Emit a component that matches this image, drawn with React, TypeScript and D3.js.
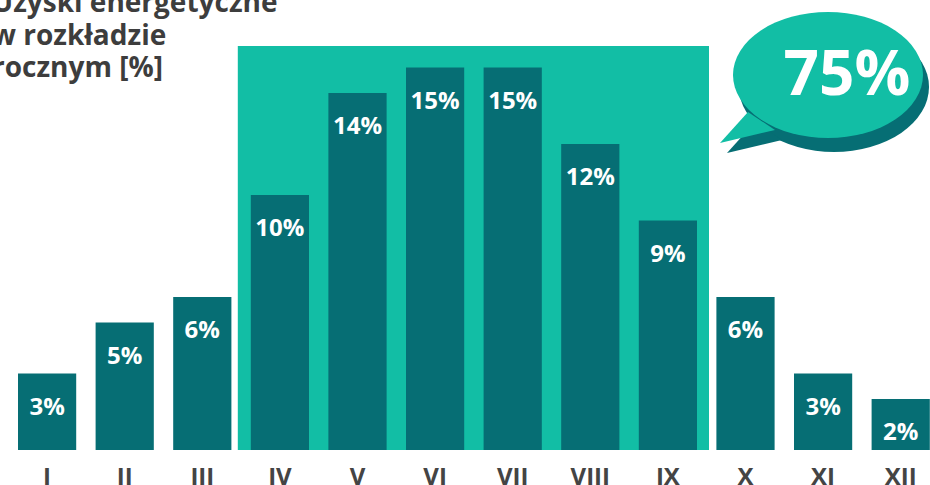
import React from "react";
import * as d3 from "d3";

const months = ["I", "II", "III", "IV", "V", "VI", "VII", "VIII", "IX", "X", "XI", "XII"];
const shares = [3, 5, 6, 10, 14, 15, 15, 12, 9, 6, 3, 2];
const highlightMonths = ["IV", "V", "VI", "VII", "VIII", "IX"];
const highlightTotal = "75%";
const titleLines = ["Uzyski energetyczne", "w rozkładzie", "rocznym [%]"];

const W = 930;
const H = 485;
const DARK = "#066e74";
const TEAL = "#12bea5";
const FONT = "'Open Sans', 'Noto Sans', sans-serif";

export default function App() {
  const x = d3.scaleBand<string>().domain(months).range([8.3, 939.5]).paddingInner(0.25).paddingOuter(0.125);
  const y = d3.scaleLinear().domain([0, 15]).range([450, 67.5]);
  const bw = x.bandwidth();

  const hx0 = (x(highlightMonths[0]) as number) - 13;
  const hx1 = (x(highlightMonths[highlightMonths.length - 1]) as number) + bw + 12;

  const cx = 828, cy = 75, rx = 95, ry = 63;
  const bubblePath = (dx: number, dy: number) => {
    const p = d3.path();
    p.moveTo(748 + dx, 112 + dy);
    p.lineTo(720 + dx, 143 + dy);
    p.lineTo(775 + dx, 130 + dy);
    p.closePath();
    return p.toString();
  };

  return (
    <svg width={W} height={H} style={{ position: "absolute", left: 0, top: 0 }} fontFamily={FONT}>
      <rect x={0} y={0} width={W} height={H} fill="#fff" />
      <rect x={hx0} y={46} width={hx1 - hx0} height={450 - 46} fill={TEAL} />
      {months.map((m, i) => (
        <g key={m}>
          <rect x={x(m)} y={y(shares[i])} width={bw} height={y(0) - y(shares[i])} fill={DARK} />
          <text
            x={(x(m) as number) + bw / 2}
            y={y(shares[i]) + 41}
            textAnchor="middle"
            fill="#fff"
            fontWeight={700}
            fontSize={24}
          >
            {shares[i]}%
          </text>
          <text
            x={(x(m) as number) + bw / 2}
            y={485}
            textAnchor="middle"
            fill="#444"
            fontWeight={700}
            fontSize={24}
          >
            {m}
          </text>
        </g>
      ))}
      <g>
        <ellipse cx={cx + 6} cy={cy + 12} rx={rx} ry={ry + 2} fill={DARK} />
        <path d={bubblePath(7, 10)} fill={DARK} />
        <path d={bubblePath(0, 0)} fill={TEAL} />
        <ellipse cx={cx} cy={cy} rx={rx} ry={ry} fill={TEAL} />
        <text x={847} y={95} textAnchor="middle" fill="#fff" fontWeight={700} fontSize={62}>
          {highlightTotal}
        </text>
      </g>
      {titleLines.map((t, i) => (
        <text key={i} x={-8} y={12 + i * 32.5} fill="#3d3d3d" fontWeight={700} fontSize={28}>
          {t}
        </text>
      ))}
    </svg>
  );
}
